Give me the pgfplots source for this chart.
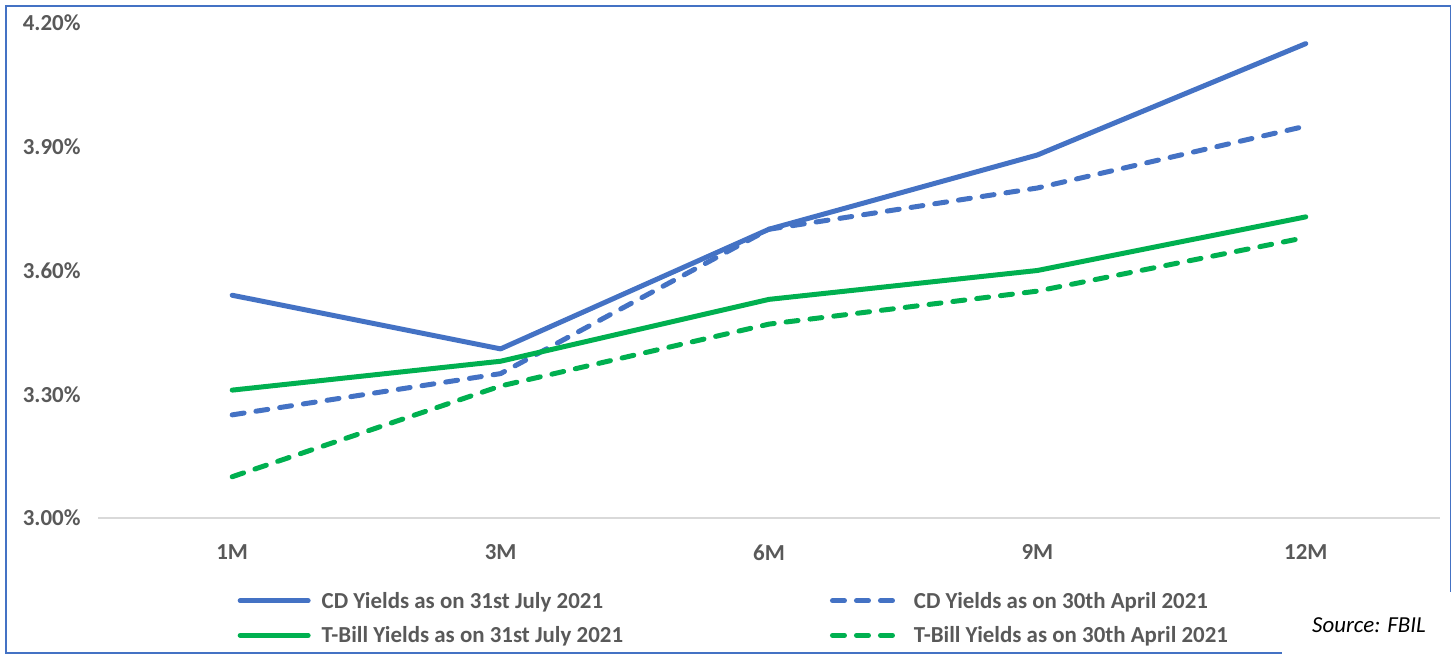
\documentclass[border=0pt]{standalone}
\usepackage{pgfplots}
\pgfplotsset{compat=1.18}
\usepackage{fontspec}
\setmainfont{Carlito}
\definecolor{cdblue}{HTML}{4472C4}
\definecolor{tbgreen}{HTML}{00B050}
\definecolor{txtgray}{HTML}{595959}
\definecolor{axgray}{HTML}{D9D9D9}
\begin{document}
\begin{tikzpicture}[x=1bp,y=1bp]
\path[use as bounding box] (0,0) rectangle (1453,654);
\draw[cdblue, line width=1.5bp] (6,0.75) rectangle (1450.5,648);
\fill[white] (1282,0) rectangle (1453,62);
\begin{axis}[
  at={(98bp,136bp)}, anchor=south west, scale only axis,
  width=1342bp, height=495bp,
  xmin=-0.5, xmax=4.5, ymin=3, ymax=4.2,
  xtick={0,1,2,3,4}, xticklabels={1M,3M,6M,9M,12M},
  ytick={3,3.3,3.6,3.9,4.2},
  yticklabel={\pgfmathprintnumber[fixed,fixed zerofill,precision=2]{\tick}\%},
  axis x line*=bottom, axis y line*=left,
  x axis line style={axgray, line width=1.5bp, -},
  y axis line style={draw=none},
  major tick length=0pt,
  tick label style={font=\bfseries\fontsize{23}{27}\selectfont, text=txtgray},
  /pgf/number format/assume math mode=true,
  yticklabel style={xshift=-14bp},
  xticklabel style={yshift=-23bp},
  legend columns=2,
  legend cell align=left,
  legend image code/.code={\draw[#1] (0bp,0bp) -- (68bp,0bp);},
  legend style={draw=none, fill=none, at={(0.1017,-0.141)}, anchor=north west,
    font=\bfseries\fontsize{23}{27}\selectfont, text=txtgray,
    row sep=13bp,
    /tikz/every odd column/.append style={column sep=9bp},
    /tikz/every even column/.append style={column sep=205bp}},
]
\addplot[cdblue, line width=5bp, line cap=round, line join=round] coordinates {(0,3.54) (1,3.41) (2,3.70) (3,3.88) (4,4.15)};
\addlegendentry{CD Yields as on 31st July 2021}
\addplot[cdblue, line width=5bp, line cap=round, line join=round, dash pattern=on 12bp off 12bp] coordinates {(0,3.25) (1,3.35) (2,3.70) (3,3.80) (4,3.95)};
\addlegendentry{CD Yields as on 30th April 2021}
\addplot[tbgreen, line width=5bp, line cap=round, line join=round] coordinates {(0,3.31) (1,3.38) (2,3.53) (3,3.60) (4,3.73)};
\addlegendentry{T-Bill Yields as on 31st July 2021}
\addplot[tbgreen, line width=5bp, line cap=round, line join=round, dash pattern=on 12bp off 12bp] coordinates {(0,3.10) (1,3.32) (2,3.47) (3,3.55) (4,3.68)};
\addlegendentry{T-Bill Yields as on 30th April 2021}
\end{axis}
\node[anchor=base west, font=\itshape\fontsize{23}{27}\selectfont, inner sep=0pt] at (1312,21) {Source: FBIL};
\end{tikzpicture}
\end{document}
